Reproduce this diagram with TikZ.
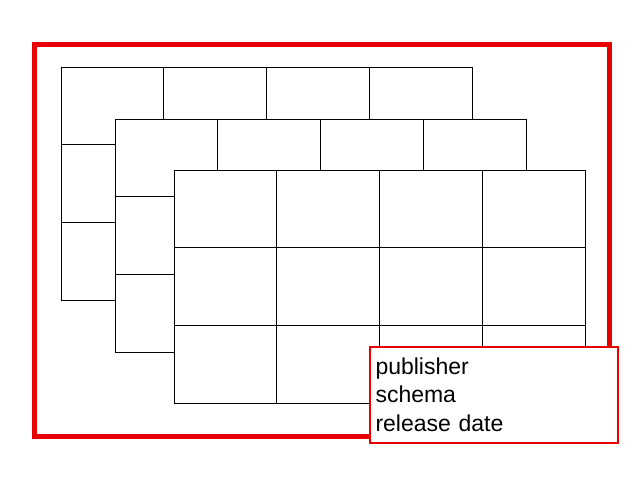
\documentclass[tikz,border=0pt]{standalone}
\usepackage{fontspec}
\setmainfont{Liberation Sans}
\usepackage{tikz}
\usetikzlibrary{shadows}
\definecolor{framered}{RGB}{232,0,0}
\tikzstyle{cell}=[draw, fill=white, line width=1pt]
\tikzstyle{frame}=[draw=framered, line width=5pt]
\tikzstyle{meta}=[draw=framered, line width=2pt, fill=white, rectangle,
  minimum width=248pt, minimum height=96pt, text width=236pt, align=left,
  inner xsep=6pt, font=\fontsize{23}{28.5}\selectfont,
  drop shadow={shadow xshift=0.5pt, shadow yshift=-1pt, opacity=0.25, fill=black}]

\begin{document}
\begin{tikzpicture}[x=1pt, y=-1pt]
        \useasboundingbox (0,0) rectangle (640,480);
        \draw[frame] (34.5,44.5) rectangle (609,436);
        % three stacked tables
        \foreach \ox/\oy in {61/67, 115/119, 174/170}
            \foreach \i in {0,...,3}
                \foreach \j in {0,...,2}
                    \draw[cell] (\ox+\i*102.9, \oy+\j*77.7) rectangle +(102.9, 77.7);
        \node[meta, anchor=north west] (info) at (368.5,345.5) {publisher\\schema\\release date};
    \end{tikzpicture}
\end{document}
